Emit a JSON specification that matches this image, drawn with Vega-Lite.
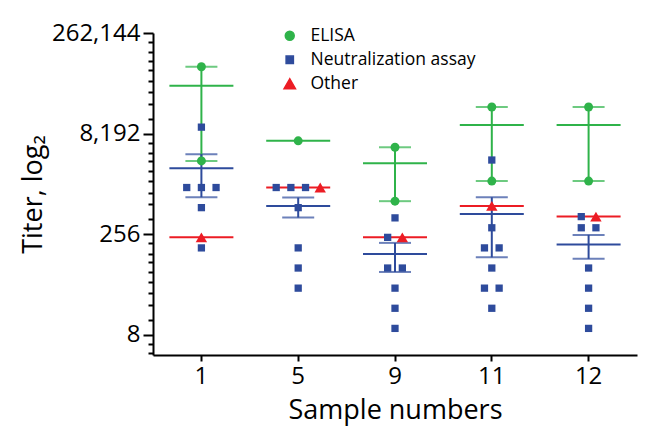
{
  "$schema": "https://vega.github.io/schema/vega-lite/v6.json",
  "width": 484,
  "height": 322,
  "autosize": {"type": "none"},
  "padding": {"left": 153, "top": 33, "right": 13, "bottom": 72},
  "background": "white",
  "config": {
    "view": {"stroke": null},
    "font": "Open Sans",
    "axis": {"grid": false, "labelColor": "black", "titleColor": "black", "domainColor": "black", "tickColor": "black", "titleFontWeight": "normal"},
    "legend": {"orient": "none", "legendX": 128, "legendY": -6, "title": null, "labelFontSize": 17.5, "labelOffset": 12, "rowPadding": 5, "padding": 0, "labelColor": "black", "labelLimit": 0, "symbolOpacity": 1}
  },
  "data": {
    "values": [
      {"sample": "1", "method": "ELISA", "value": 81920},
      {"sample": "1", "method": "ELISA", "value": 3200},
      {"sample": "1", "method": "Neutralization assay", "value": 10240},
      {"sample": "1", "method": "Neutralization assay", "value": 1280},
      {"sample": "1", "method": "Neutralization assay", "value": 1280},
      {"sample": "1", "method": "Neutralization assay", "value": 1280},
      {"sample": "1", "method": "Neutralization assay", "value": 640},
      {"sample": "1", "method": "Neutralization assay", "value": 160},
      {"sample": "1", "method": "Other", "value": 230},
      {"sample": "5", "method": "ELISA", "value": 6400},
      {"sample": "5", "method": "Neutralization assay", "value": 1280},
      {"sample": "5", "method": "Neutralization assay", "value": 1280},
      {"sample": "5", "method": "Neutralization assay", "value": 1280},
      {"sample": "5", "method": "Neutralization assay", "value": 640},
      {"sample": "5", "method": "Neutralization assay", "value": 160},
      {"sample": "5", "method": "Neutralization assay", "value": 80},
      {"sample": "5", "method": "Neutralization assay", "value": 40},
      {"sample": "5", "method": "Other", "value": 1280},
      {"sample": "9", "method": "ELISA", "value": 5120},
      {"sample": "9", "method": "ELISA", "value": 800},
      {"sample": "9", "method": "Neutralization assay", "value": 450},
      {"sample": "9", "method": "Neutralization assay", "value": 230},
      {"sample": "9", "method": "Neutralization assay", "value": 80},
      {"sample": "9", "method": "Neutralization assay", "value": 80},
      {"sample": "9", "method": "Neutralization assay", "value": 40},
      {"sample": "9", "method": "Neutralization assay", "value": 20},
      {"sample": "9", "method": "Neutralization assay", "value": 10},
      {"sample": "9", "method": "Other", "value": 230},
      {"sample": "11", "method": "ELISA", "value": 20480},
      {"sample": "11", "method": "ELISA", "value": 1600},
      {"sample": "11", "method": "Neutralization assay", "value": 3300},
      {"sample": "11", "method": "Neutralization assay", "value": 320},
      {"sample": "11", "method": "Neutralization assay", "value": 160},
      {"sample": "11", "method": "Neutralization assay", "value": 160},
      {"sample": "11", "method": "Neutralization assay", "value": 80},
      {"sample": "11", "method": "Neutralization assay", "value": 40},
      {"sample": "11", "method": "Neutralization assay", "value": 40},
      {"sample": "11", "method": "Neutralization assay", "value": 20},
      {"sample": "11", "method": "Other", "value": 680},
      {"sample": "12", "method": "ELISA", "value": 20480},
      {"sample": "12", "method": "ELISA", "value": 1600},
      {"sample": "12", "method": "Neutralization assay", "value": 470},
      {"sample": "12", "method": "Neutralization assay", "value": 320},
      {"sample": "12", "method": "Neutralization assay", "value": 320},
      {"sample": "12", "method": "Neutralization assay", "value": 80},
      {"sample": "12", "method": "Neutralization assay", "value": 40},
      {"sample": "12", "method": "Neutralization assay", "value": 20},
      {"sample": "12", "method": "Neutralization assay", "value": 10},
      {"sample": "12", "method": "Other", "value": 470}
    ]
  },
  "resolve": {"axis": {"y": "independent"}},
  "layer": [
    {
      "transform": [
        {"joinaggregate": [{"op": "count", "as": "n"}], "groupby": ["sample", "method"]},
        {"filter": "datum.n > 1"}
      ],
      "mark": {"type": "errorbar", "extent": "stderr", "thickness": 2, "ticks": {"size": 32, "thickness": 2}},
      "encoding": {
        "x": {"field": "sample", "type": "nominal", "sort": ["1", "5", "9", "11", "12"], "scale": {"type": "band", "paddingInner": 0, "paddingOuter": 0}, "axis": {"title": "Sample numbers", "labelAngle": 0, "labelFontSize": 24, "titleFontSize": 27, "tickSize": 6, "tickWidth": 2, "domainWidth": 2, "labelPadding": 3, "titlePadding": 9}},
        "y": {"field": "value", "type": "quantitative", "scale": {"type": "log", "base": 2, "domain": [4, 262144], "nice": false, "zero": false}, "axis": null},
        "color": {"field": "method", "type": "nominal"}
      }
    },
    {
      "mark": {"type": "tick", "size": 64, "thickness": 2},
      "encoding": {
        "x": {"field": "sample", "type": "nominal", "sort": ["1", "5", "9", "11", "12"]},
        "y": {"aggregate": "mean", "field": "value", "type": "quantitative", "axis": {"orient": "left", "title": null, "labels": false, "domain": false, "tickSize": 5, "tickWidth": 2, "values": [4.23, 5.86, 13.4, 22.3, 33.4, 49.9, 70.5, 99.0, 131.6, 187.5, 428.6, 714, 1068, 1594, 2256, 3168, 4212, 6000, 13716, 22853, 34189, 51024, 72197, 101375, 134800, 191987]}},
        "color": {"field": "method", "type": "nominal"}
      }
    },
    {
      "transform": [
        {"window": [{"op": "row_number", "as": "rn"}, {"op": "count", "as": "cnt"}], "groupby": ["sample", "value"], "sort": [{"field": "method"}], "frame": [null, null]},
        {"calculate": "datum.rn - (datum.cnt + 1) / 2", "as": "slot"}
      ],
      "mark": {"type": "point", "filled": true, "opacity": 1},
      "encoding": {
        "x": {"field": "sample", "type": "nominal", "sort": ["1", "5", "9", "11", "12"]},
        "xOffset": {"field": "slot", "type": "quantitative", "scale": {"domain": [-3.3, 3.3]}},
        "y": {"field": "value", "type": "quantitative", "axis": {"orient": "left", "title": "Titer, log₂", "values": [8, 256, 8192, 262144], "format": ",d", "labelFontSize": 24, "titleFontSize": 27, "tickSize": 10, "tickWidth": 2, "domainWidth": 2, "labelPadding": 3, "titlePadding": 4}},
        "color": {"field": "method", "type": "nominal", "scale": {"domain": ["ELISA", "Neutralization assay", "Other"], "range": ["#2fb34a", "#2e4b9c", "#ec1c24"]}},
        "shape": {"field": "method", "type": "nominal", "scale": {"domain": ["ELISA", "Neutralization assay", "Other"], "range": ["circle", "square", "triangle-up"]}},
        "size": {"field": "method", "type": "nominal", "scale": {"type": "ordinal", "domain": ["ELISA", "Neutralization assay", "Other"], "range": [80, 53, 130]}}
      }
    }
  ]
}
